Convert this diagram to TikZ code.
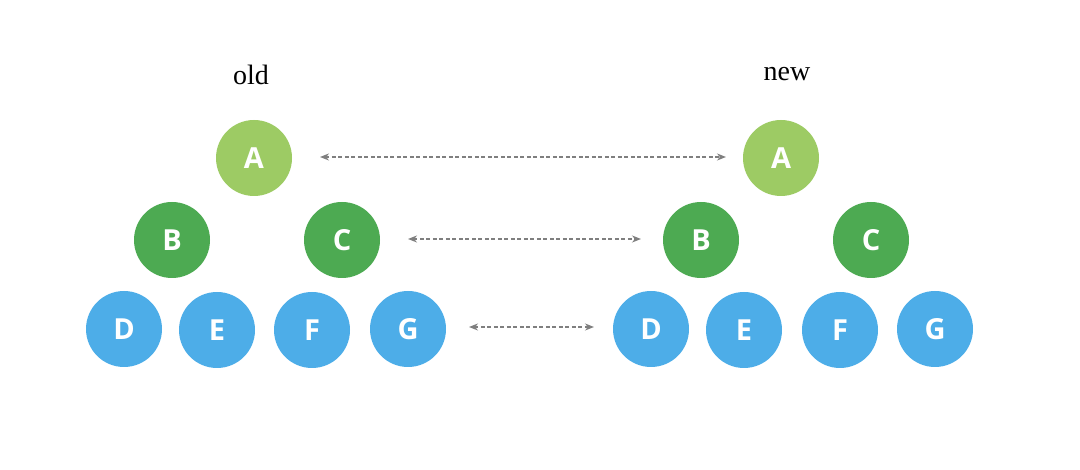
\documentclass[tikz,border=0pt]{standalone}
\usepackage{fontspec}
\setmainfont{Liberation Serif}
\newfontfamily\lettfont{Open Sans}
\usetikzlibrary{arrows.meta}
\definecolor{lgreen}{HTML}{9DCB64}
\definecolor{dgreen}{HTML}{4DAA52}
\definecolor{lblue}{HTML}{4DADE8}
\definecolor{arrgray}{HTML}{7F7F7F}
\tikzset{
  circ/.style={circle, minimum size=76pt, inner sep=0pt, text=white, font=\lettfont\bfseries\fontsize{29pt}{29pt}\selectfont},
  lvA/.style={circ, fill=lgreen},
  lvB/.style={circ, fill=dgreen},
  lvC/.style={circ, fill=lblue},
  lbl/.style={font=\fontsize{28pt}{28pt}\selectfont},
  cmp/.style={draw=arrgray, line width=1.5pt, dash pattern=on 4pt off 2.5pt, {Stealth[length=9pt,width=7pt]}-{Stealth[length=9pt,width=7pt]}}
}
\begin{document}
\begin{tikzpicture}[x=1pt,y=-1pt]
\useasboundingbox (0,0) rectangle (1080,470);
\node[lbl] (old) at (251,75) {old};
\node[lbl] (new) at (787,74) {new};
% old tree
\node[lvA] (oA) at (254,158) {A};
\node[lvB] (oB) at (172,240) {B};
\node[lvB] (oC) at (342,240) {C};
\node[lvC] (oD) at (124,329) {D};
\node[lvC] (oE) at (217,330) {E};
\node[lvC] (oF) at (312,330) {F};
\node[lvC] (oG) at (408,329) {G};
% new tree
\node[lvA] (nA) at (781,158) {A};
\node[lvB] (nB) at (701,240) {B};
\node[lvB] (nC) at (871,240) {C};
\node[lvC] (nD) at (651,329) {D};
\node[lvC] (nE) at (744,330) {E};
\node[lvC] (nF) at (840,330) {F};
\node[lvC] (nG) at (935,329) {G};
% arrow endpoints
\coordinate (r1a) at (320,157);
\coordinate (r1b) at (726,157);
\coordinate (r2a) at (408,239);
\coordinate (r2b) at (641,239);
\coordinate (r3a) at (469,327);
\coordinate (r3b) at (594,327);
\draw[cmp] (r1a) -- (r1b);
\draw[cmp] (r2a) -- (r2b);
\draw[cmp] (r3a) -- (r3b);
\end{tikzpicture}
\end{document}
